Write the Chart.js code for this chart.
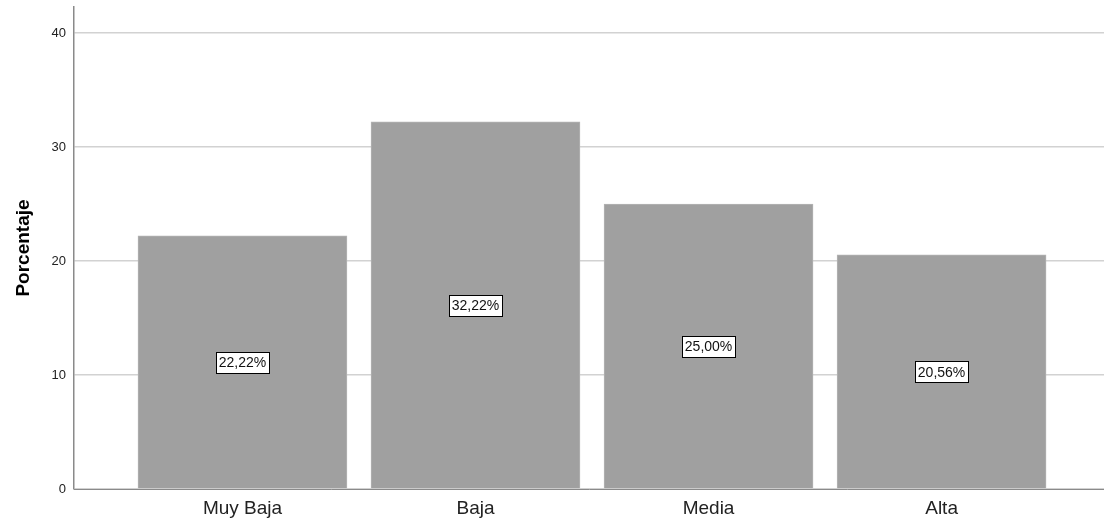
<!DOCTYPE html>
<html>
<head>
<meta charset="utf-8">
<script src="https://cdn.jsdelivr.net/npm/chart.js@4"></script>
<style>
  html, body { margin: 0; padding: 0; background: #fff; }
  #wrap { width: 1104px; height: 523px; }
</style>
</head>
<body>
<div id="wrap"><canvas id="chart"></canvas></div>
<script>
// data
var categories = ['Muy Baja', 'Baja', 'Media', 'Alta'];
var percentages = [22.22, 32.22, 25.00, 20.56];
var yTicks = [0, 10, 20, 30, 40];

// white boxed percentage label in the middle of each bar
var boxLabels = {
    id: 'boxLabels',
    afterDatasetsDraw: function(chart) {
        var ctx = chart.ctx;
        var meta = chart.getDatasetMeta(0);
        var yScale = chart.scales.y;
        ctx.save();
        ctx.font = '14px "Liberation Sans", Arial, sans-serif';
        ctx.textAlign = 'center';
        ctx.textBaseline = 'middle';
        meta.data.forEach(function(bar, i) {
            var txt = percentages[i].toFixed(2).replace('.', ',') + '%';
            var w = Math.round(ctx.measureText(txt).width + 6);
            var h = 21;
            var cy = yScale.getPixelForValue(percentages[i] / 2);
            var x0 = Math.round(bar.x - w / 2) + 0.5;
            var y0 = Math.round(cy - h / 2) + 0.5;
            ctx.fillStyle = '#fff';
            ctx.fillRect(x0, y0, w, h);
            ctx.strokeStyle = '#000';
            ctx.lineWidth = 1;
            ctx.strokeRect(x0, y0, w, h);
            ctx.fillStyle = '#111';
            ctx.fillText(txt, bar.x, cy + 1);
        });
        ctx.restore();
    }
};

new Chart(document.getElementById('chart'), {
    type: 'bar',
    data: {
        datasets: [{
            data: percentages.map(function(v, i) { return { x: i, y: v }; }),
            backgroundColor: '#a0a0a0',
            borderColor: '#b4b4b4',
            borderWidth: 1,
            barThickness: 209
        }]
    },
    options: {
        responsive: true,
        maintainAspectRatio: false,
        animation: false,
        layout: { padding: { top: 7, left: 0, right: 0, bottom: 0 } },
        plugins: { legend: { display: false }, tooltip: { enabled: false } },
        scales: {
            x: {
                type: 'linear',
                offset: false,
                min: -0.723,
                max: 3.697,
                afterBuildTicks: function(scale) {
                    scale.ticks = categories.map(function(c, i) { return { value: i }; });
                },
                afterFit: function(scale) {
                    scale.height = 34;
                    scale.paddingLeft = 0;
                    scale.paddingRight = 0;
                },
                ticks: {
                    callback: function(v) { return categories[v]; },
                    color: '#222',
                    padding: 8,
                    maxRotation: 0,
                    autoSkip: false,
                    font: { family: '"Liberation Sans", Arial, sans-serif', size: 19 }
                },
                grid: { display: false, drawTicks: false, offset: false },
                border: { color: '#8a8a8a', width: 1 }
            },
            y: {
                min: 0,
                max: 42.3,
                afterBuildTicks: function(scale) {
                    scale.ticks = yTicks.map(function(v) { return { value: v }; });
                },
                afterFit: function(scale) {
                    scale.width = 74;
                    scale.paddingTop = 0;
                    scale.paddingBottom = 0;
                },
                ticks: {
                    color: '#222',
                    padding: 8,
                    font: { family: '"Liberation Sans", Arial, sans-serif', size: 13 }
                },
                grid: { color: '#d2d2d2', lineWidth: 1.5, drawTicks: false },
                border: { color: '#8a8a8a', width: 1.5 },
                title: {
                    display: true,
                    text: 'Porcentaje',
                    color: '#000',
                    padding: { top: 12, bottom: 0 },
                    font: { family: '"Liberation Sans", Arial, sans-serif', size: 19, weight: 'bold' }
                }
            }
        }
    },
    plugins: [boxLabels]
});
</script>
</body>
</html>
